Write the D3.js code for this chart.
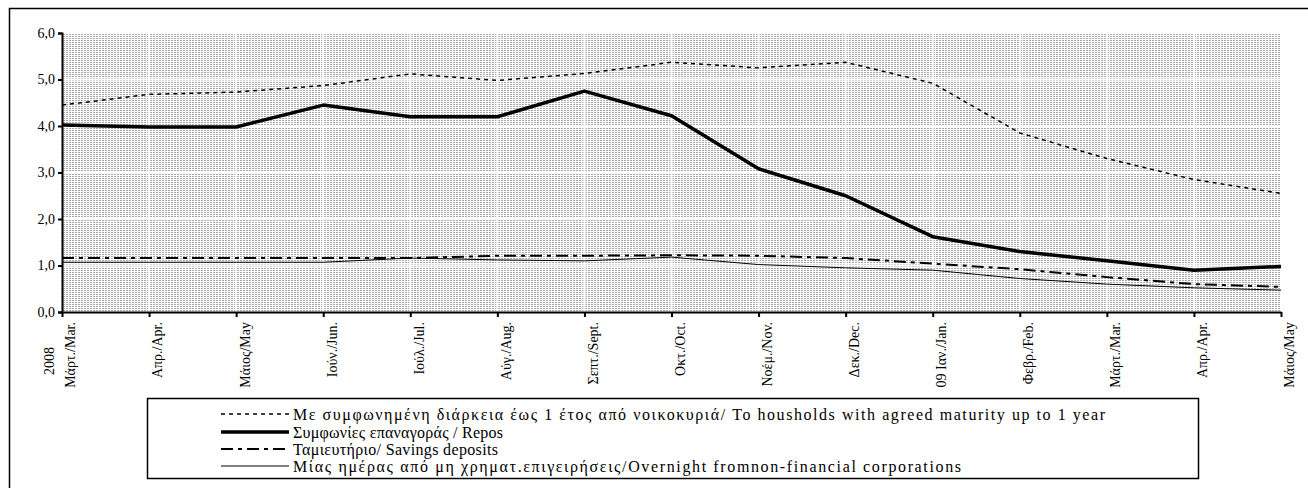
<!DOCTYPE html>
<html><head><meta charset="utf-8">
<script src="https://cdn.jsdelivr.net/npm/d3@7"></script>
<style>
html,body{margin:0;padding:0;background:#fff;}
svg{display:block;}
</style></head>
<body><svg id="c" width="1308" height="488" font-family="Liberation Serif, Times New Roman, DejaVu Serif, serif"></svg>
<script>
const categories = ["Μάρτ./Mar.","Απρ./Apr.","Μάιος/May","Ιούν./Jun.","Ιούλ./Jul.","Αύγ./Aug.","Σεπτ./Sept.","Οκτ./Oct.","Νοέμ./Nov.","Δεκ./Dec.","09 Ιαν./Jan.","Φεβρ./Feb.","Μάρτ./Mar.","Απρ./Apr.","Μάιος/May"];
const yearLabel = "2008";
const households = [4.45,4.68,4.73,4.87,5.12,4.98,5.13,5.37,5.25,5.37,4.92,3.85,3.30,2.85,2.55];
const repos = [4.02,3.98,3.98,4.45,4.20,4.20,4.75,4.22,3.08,2.50,1.62,1.30,1.10,0.90,0.98];
const savings = [1.16,1.16,1.16,1.16,1.16,1.21,1.21,1.22,1.21,1.16,1.04,0.92,0.75,0.60,0.54];
const overnight = [1.07,1.07,1.07,1.07,1.16,1.12,1.10,1.18,1.02,0.95,0.90,0.72,0.60,0.52,0.47];
const yTicks = [0,1,2,3,4,5,6];
const seriesNames = [
  "Με συμφωνημένη διάρκεια έως 1 έτος από νοικοκυριά/ To housholds with agreed maturity up to 1 year",
  "Συμφωνίες επαναγοράς / Repos",
  "Ταμιευτήριο/ Savings deposits",
  "Μίας ημέρας από μη χρηματ.επιγειρήσεις/Overnight fromnon-financial corporations"
];
const FONT = "Liberation Serif, Times New Roman, DejaVu Serif, serif";

const svg = d3.select("#c");
const L = 62, R = 1281, T = 33, B = 312;
const x = d3.scalePoint().domain(d3.range(categories.length)).range([L, R]);
const y = d3.scaleLinear().domain([0, 6]).range([B, T]);

svg.append("path").attr("d","M9.5,488 V8.5 H1308").attr("fill","none").attr("stroke","#000").attr("stroke-width",1.5);

const defs = svg.append("defs");
const pat = defs.append("pattern").attr("id","stip").attr("patternUnits","userSpaceOnUse").attr("width",3).attr("height",2);
pat.append("rect").attr("width",3).attr("height",2).attr("fill","#fff");
pat.append("rect").attr("x",0).attr("y",0).attr("width",2).attr("height",1).attr("fill","#a8a8a8");

svg.append("rect").attr("x",L).attr("y",T).attr("width",R-L).attr("height",B-T).attr("fill","url(#stip)");

svg.append("g").selectAll("line").data(yTicks.filter(d=>d>0&&d<6)).join("line")
  .attr("x1",L).attr("x2",R).attr("y1",d=>y(d)).attr("y2",d=>y(d)).attr("stroke","#fff").attr("stroke-width",2);
svg.append("g").selectAll("line").data(d3.range(1,categories.length)).join("line")
  .attr("x1",d=>x(d)).attr("x2",d=>x(d)).attr("y1",T).attr("y2",B).attr("stroke","#fff").attr("stroke-width",2);

const yAxis = svg.append("g").attr("transform",`translate(${L},0)`)
  .call(d3.axisLeft(y).tickValues(yTicks).tickSize(4).tickFormat(d=>d3.format(".1f")(d).replace(".",",")));
yAxis.attr("font-family",FONT).attr("font-size",14);
yAxis.select(".domain").attr("stroke","#000").attr("stroke-width",2);
yAxis.selectAll(".tick line").attr("stroke","#000").attr("stroke-width",2);
yAxis.selectAll("text").attr("fill","#000").attr("x",-7);

const xAxis = svg.append("g").attr("transform",`translate(0,${B})`)
  .call(d3.axisBottom(x).tickSize(5).tickSizeOuter(0).tickFormat(i=>categories[i]));
xAxis.attr("font-family",FONT).attr("font-size",14);
xAxis.select(".domain").attr("stroke","#000").attr("stroke-width",2);
xAxis.selectAll(".tick line").attr("stroke","#000").attr("stroke-width",2);
xAxis.selectAll("text").attr("fill","#000")
  .attr("transform","rotate(-90)").attr("text-anchor","end").attr("x",-10).attr("y",8).attr("dy","0.35em");
svg.append("text").attr("font-size",14).attr("font-family",FONT).attr("fill","#000").attr("text-anchor","middle")
  .attr("transform",`translate(${x(0)-13},361) rotate(-90)`).attr("dy","0.35em").text(yearLabel);

const line = d3.line().x((d,i)=>x(i)).y(d=>y(d));
const styles = [
  {data:households, w:1.5, dash:"4,4"},
  {data:repos, w:3.5, dash:null},
  {data:savings, w:2, dash:"12,5,4,5"},
  {data:overnight, w:1, dash:null}
];
styles.forEach(s=>{
  svg.append("path").datum(s.data).attr("d",line).attr("fill","none").attr("stroke","#000")
    .attr("stroke-width",s.w).attr("stroke-dasharray",s.dash).attr("stroke-linejoin","round");
});

svg.append("rect").attr("x",147.5).attr("y",398.5).attr("width",1051).attr("height",80).attr("fill","#fff").attr("stroke","#000").attr("stroke-width",1.5);
const rowsY = [414,432,449,466];
const widths = [812,210,205,668];
seriesNames.forEach((n,i)=>{
  const s = styles[i];
  svg.append("line").attr("x1",221).attr("x2",289).attr("y1",rowsY[i]).attr("y2",rowsY[i])
    .attr("stroke","#000").attr("stroke-width",s.w).attr("stroke-dasharray",s.dash);
  svg.append("text").attr("x",293).attr("y",rowsY[i]).attr("dy","0.35em").attr("font-size",16).attr("font-family",FONT).attr("fill","#000")
    .attr("textLength",widths[i]).attr("lengthAdjust","spacing").text(n);
});
</script></body></html>
